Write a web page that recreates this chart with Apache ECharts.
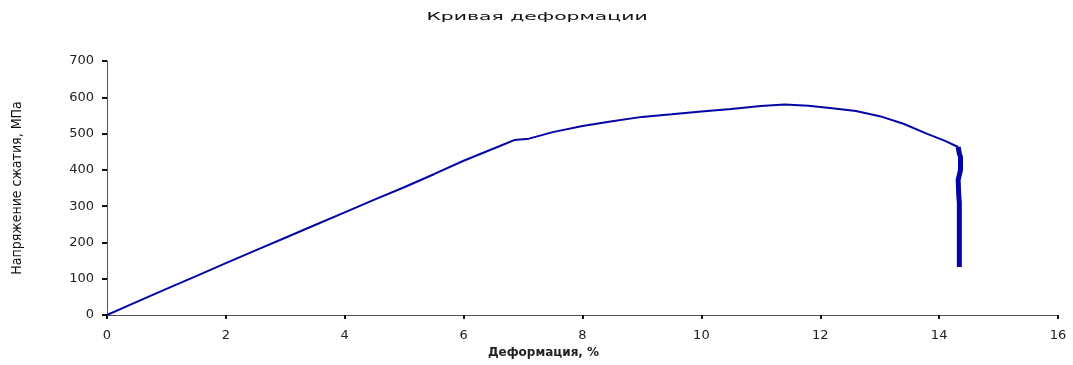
<!DOCTYPE html>
<html>
<head>
<meta charset="utf-8">
<script src="https://cdn.jsdelivr.net/npm/echarts@6/dist/echarts.min.js"></script>
<style>html,body{margin:0;padding:0;background:#fff;}#c{width:1073px;height:365px;}</style>
</head>
<body>
<div id="c"></div>
<script>
// Curve: strain (%) vs compressive stress (MPa)
var strain = [0, 0.5, 1, 1.5, 2, 2.5, 3, 3.5, 4, 4.5, 5, 5.5, 6, 6.3, 6.6, 6.85, 7.1, 7.5, 8, 8.5, 9, 9.5, 10, 10.5, 11, 11.4, 11.8, 12.2, 12.6, 13.0, 13.4, 13.8, 14.1, 14.32];
var stress = [0, 36, 72, 107, 143, 178, 213, 248, 283, 318, 352, 388, 425, 445, 465, 482, 486, 504, 521, 534, 546, 553, 561, 568, 576, 580, 577, 570, 562, 548, 527, 499, 480, 463];
// Final drop segment
var dropStrain = [14.32, 14.34, 14.36, 14.36, 14.32, 14.33, 14.34, 14.34];
var dropStress = [463, 445, 435, 400, 372, 330, 309, 132];

var titleText = "Кривая деформации";
var xName = "Деформация, %";
var yName = "Напряжение сжатия, МПа";

function pairs(xs, ys){ return xs.map(function(x,i){ return [x, ys[i]]; }); }

var chart = echarts.init(document.getElementById('c'));
var axisCol = '#555';
var txtCol = '#222';
var lineCol = '#0505a5';
chart.setOption({
  animation: false,
  backgroundColor: '#fff',
  graphic: [{
    type: 'text', x: 537, y: 12, scaleX: 1.85,
    style: { text: titleText, font: '11px "DejaVu Sans"', fill: '#111', textAlign: 'center' }
  }],
  grid: { left: 107, right: 15, top: 61, bottom: 50 },
  xAxis: {
    type: 'value', min: 0, max: 16, interval: 2,
    name: xName, nameLocation: 'middle', nameGap: 31,
    nameTextStyle: { fontFamily: 'DejaVu Sans', fontSize: 12, fontWeight: 'bold', color: txtCol, padding: [0, 78, 0, 0] },
    axisLine: { lineStyle: { color: axisCol, width: 1 } },
    axisTick: { show: true, length: 4, lineStyle: { color: '#111', width: 2 } },
    axisLabel: { fontFamily: 'DejaVu Sans', fontSize: 13, color: txtCol, margin: 14 },
    splitLine: { show: false }
  },
  yAxis: {
    type: 'value', min: 0, max: 700, interval: 100,
    name: yName, nameLocation: 'middle', nameGap: 83, nameRotate: 90,
    nameTextStyle: { fontFamily: '"Liberation Sans Narrow", "DejaVu Sans Condensed", sans-serif', fontSize: 14, color: '#111' },
    axisLine: { show: true, lineStyle: { color: axisCol, width: 1 } },
    axisTick: { show: true, length: 5, lineStyle: { color: '#111', width: 2 } },
    axisLabel: { fontFamily: 'DejaVu Sans', fontSize: 13, color: txtCol, margin: 13 },
    splitLine: { show: false }
  },
  series: [{
    type: 'line', data: pairs(strain, stress), showSymbol: false, symbol: 'none',
    lineStyle: { color: lineCol, width: 2 }
  }, {
    type: 'line', data: pairs(dropStrain, dropStress), showSymbol: false, symbol: 'none',
    lineStyle: { color: lineCol, width: 5 }
  }]
});
</script>
</body>
</html>
